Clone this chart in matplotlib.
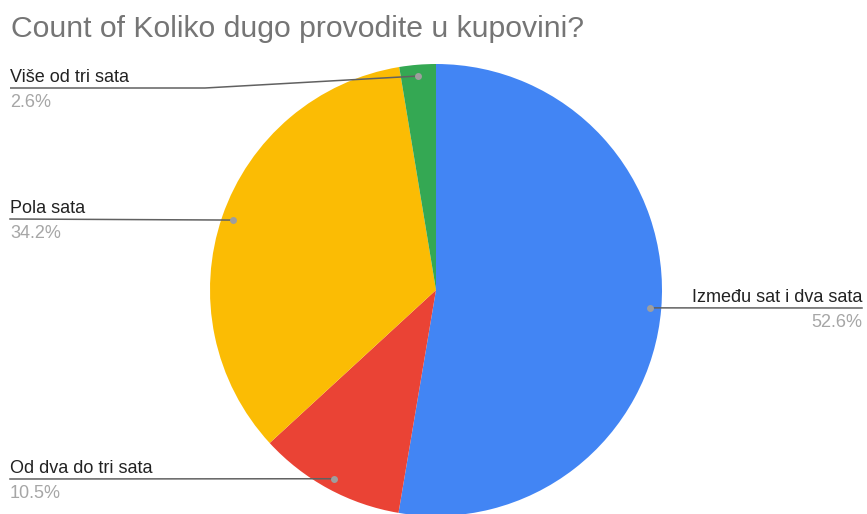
import numpy as np
import matplotlib
matplotlib.use("Agg")
import matplotlib.pyplot as plt

title = "Count of Koliko dugo provodite u kupovini?"
categories = ["Između sat i dva sata", "Od dva do tri sata", "Pola sata", "Više od tri sata"]
values = [52.6, 10.5, 34.2, 2.6]
pct_labels = ["52.6%", "10.5%", "34.2%", "2.6%"]
colors = ["#4285F4", "#EA4335", "#FBBC04", "#34A853"]

W, H = 867, 514
plt.rcParams['font.family'] = ['Liberation Sans', 'DejaVu Sans']
fig = plt.figure(figsize=(W / 100, H / 100), dpi=100)
ax = fig.add_axes([0, 0, 1, 1])
ax.set_xlim(0, W)
ax.set_ylim(0, H)
ax.set_aspect('equal')
ax.axis('off')

cx, cy, R = 436, H - 290, 226
wedges, _ = ax.pie(values, center=(cx, cy), radius=R, startangle=90,
                   counterclock=False, colors=colors,
                   wedgeprops=dict(linewidth=0))
ax.set_xlim(0, W)
ax.set_ylim(0, H)

fig.text(11 / W, 1 - 37 / H, title, fontsize=21.7, color="#757575",
         ha='left', va='baseline')

# layout: label line y (from top), side
line_y_top = [308, 479, 219, 88]
sides = ['right', 'left', 'left', 'left']
bend_x = [None, None, None, 205]

total = sum(values)
cum = 0
for i, v in enumerate(values):
    mid = (cum + v / 2) / total
    cum += v
    ang = np.deg2rad(90 - 360 * mid)
    dx = cx + 0.95 * R * np.cos(ang)
    dy = cy + 0.95 * R * np.sin(ang)
    ly = H - line_y_top[i]
    if sides[i] == 'left':
        x0 = 10
        if bend_x[i] is not None:
            ax.plot([x0, bend_x[i], dx], [ly, ly, dy], color="#616161", lw=1.1,
                    solid_capstyle='butt', zorder=5)
        else:
            ax.plot([x0, dx], [ly, dy], color="#616161", lw=1.1, zorder=5)
        tx, ha = x0, 'left'
    else:
        x1 = 862
        ax.plot([dx, x1], [dy, ly], color="#616161", lw=1.1, zorder=5)
        tx, ha = x1, 'right'
    ax.plot([dx], [dy], 'o', color="#9E9E9E", ms=5, mec='none', zorder=6)
    ax.text(tx, ly + 6, categories[i], fontsize=13, color="#222222",
            ha=ha, va='baseline')
    ax.text(tx, ly - 19, pct_labels[i], fontsize=13, color="#A6A6A6",
            ha=ha, va='baseline')

fig.savefig("out.png", dpi=100)
